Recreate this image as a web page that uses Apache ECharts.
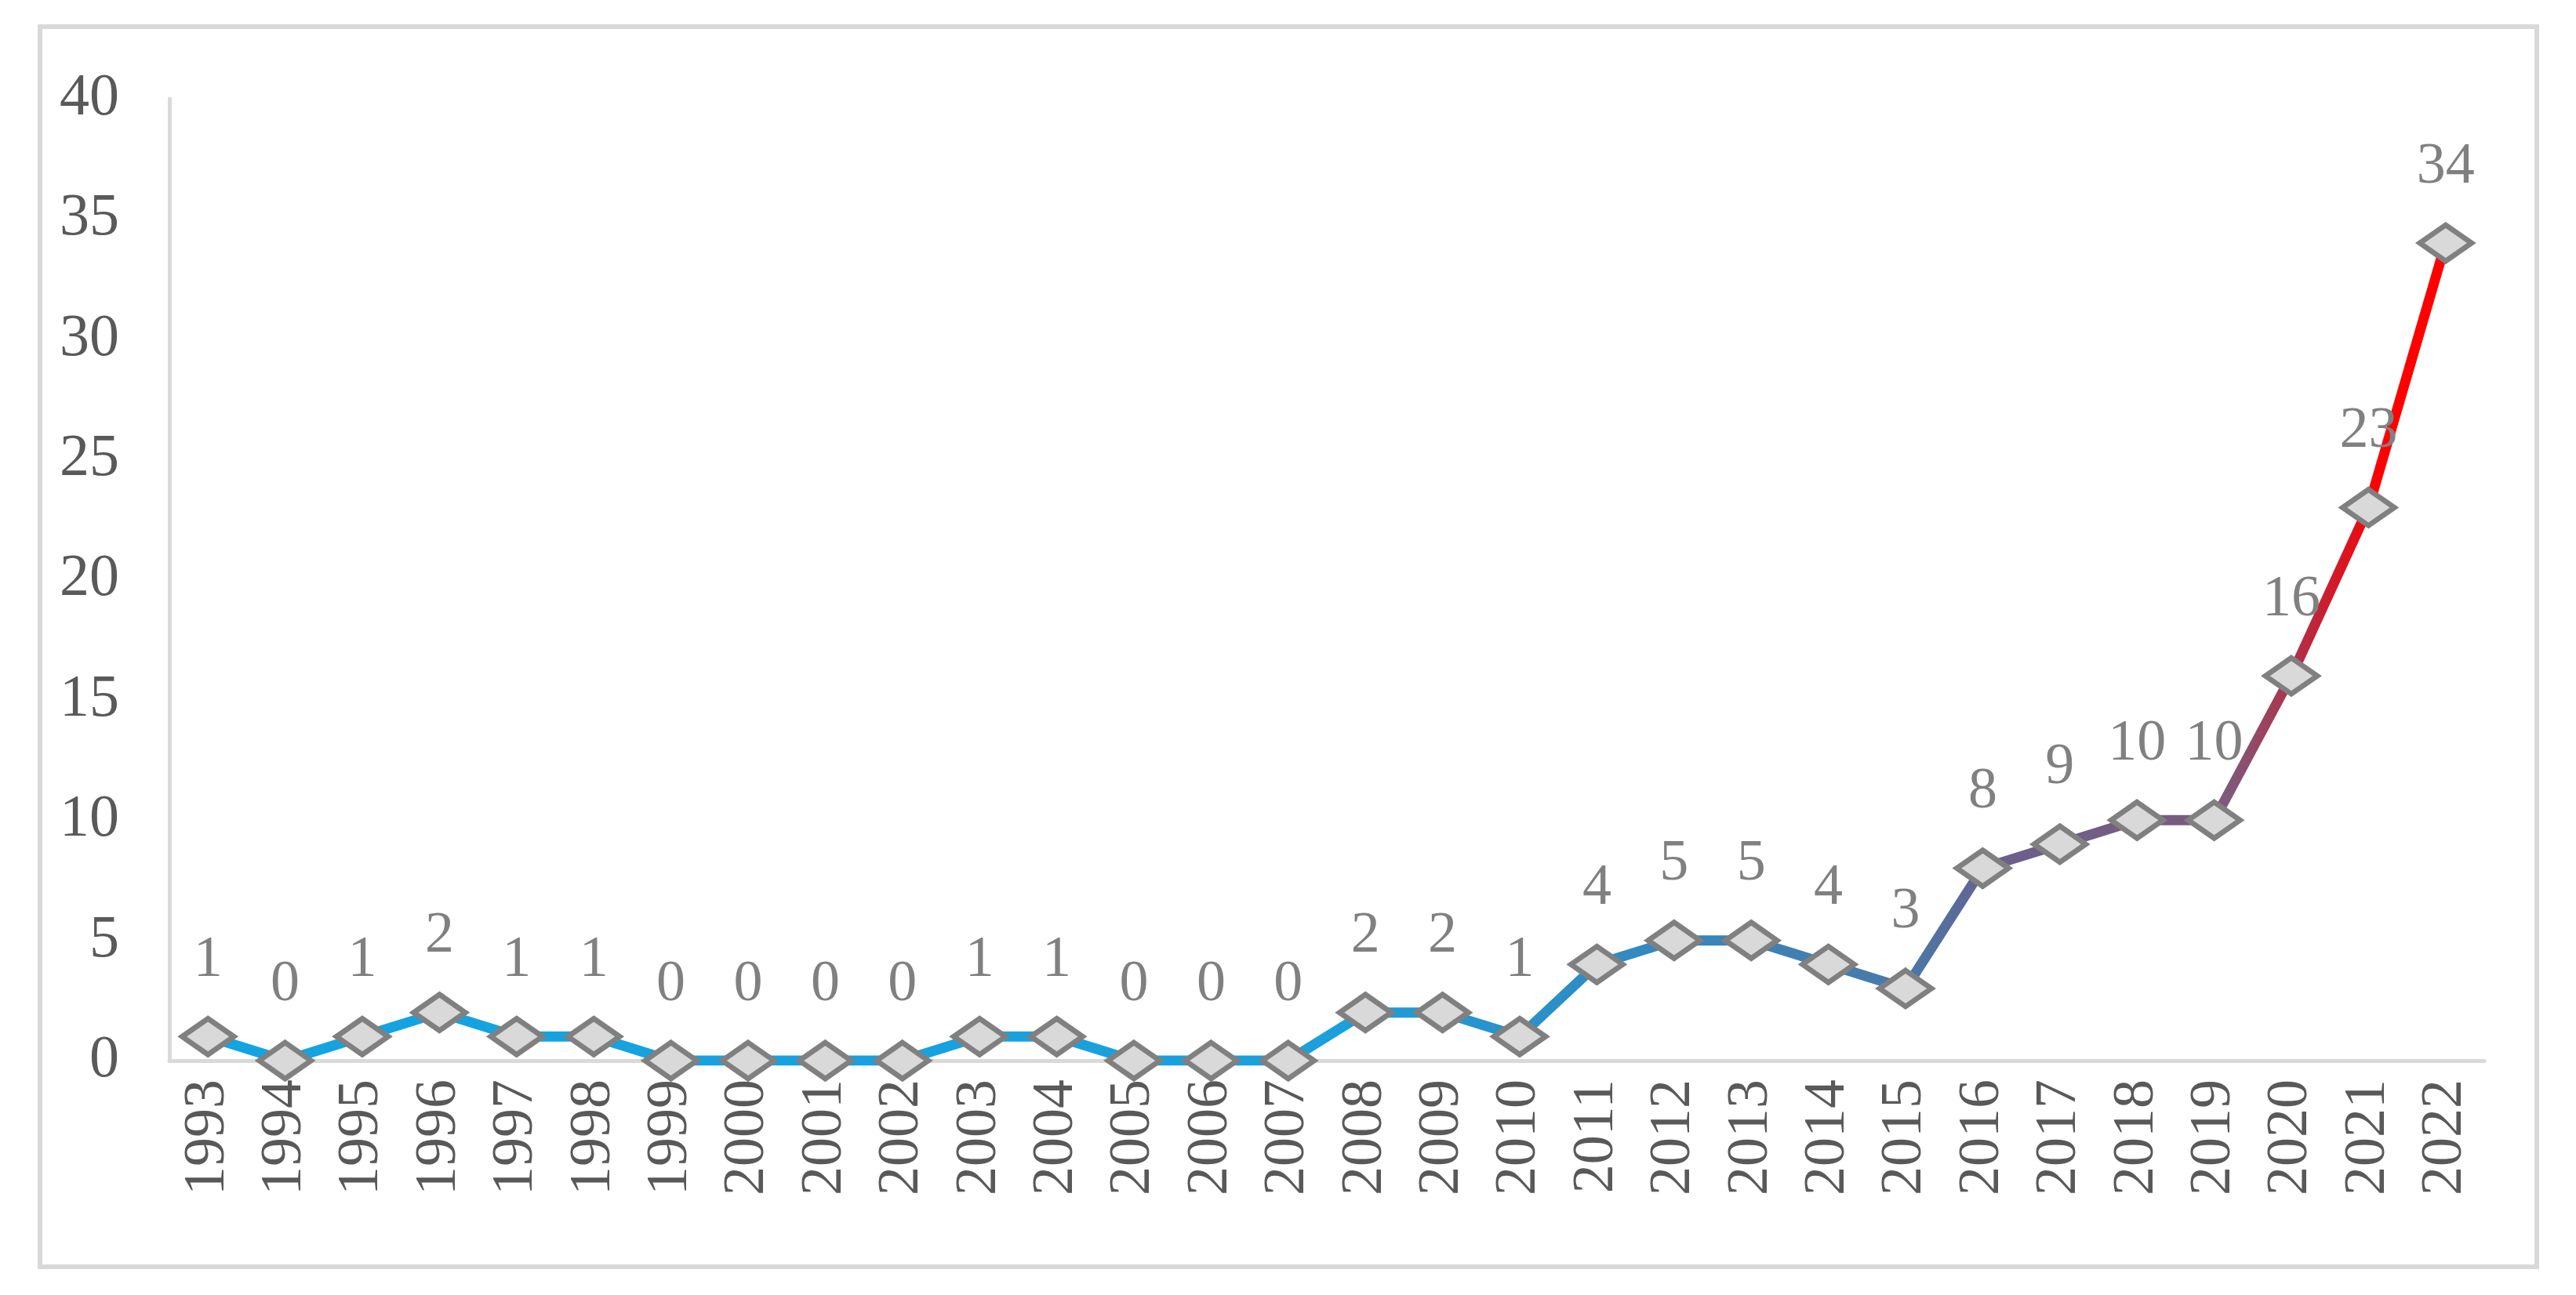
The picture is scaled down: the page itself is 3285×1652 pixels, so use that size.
<!DOCTYPE html>
<html><head><meta charset="utf-8">
<script src="https://cdn.jsdelivr.net/npm/echarts@6/dist/echarts.min.js"></script>
<style>html,body{margin:0;padding:0;background:#fff}#c{width:3285px;height:1652px}
#f{position:absolute;left:48px;top:31px;width:3190px;height:1588px;border:6px solid #d9d9d9;box-sizing:border-box;pointer-events:none}</style>
</head><body><div id="c"></div><div id="f"></div>
<script>
const years = ['1993','1994','1995','1996','1997','1998','1999','2000','2001','2002','2003','2004','2005','2006','2007','2008','2009','2010','2011','2012','2013','2014','2015','2016','2017','2018','2019','2020','2021','2022'];
const counts = [1,0,1,2,1,1,0,0,0,0,1,1,0,0,0,2,2,1,4,5,5,4,3,8,9,10,10,16,23,34];
const yTicks = [0,5,10,15,20,25,30,35,40];
const font = 'Liberation Serif';
const chart = echarts.init(document.getElementById('c'));
chart.setOption({
  animation:false,
  grid:{left:216,right:117,top:126,bottom:299},
  xAxis:{type:'category',data:years,boundaryGap:true,
    axisLine:{lineStyle:{color:'#d9d9d9',width:5}},axisTick:{show:false},
    axisLabel:{rotate:90,color:'#595959',fontFamily:font,fontSize:74,margin:24}},
  yAxis:{type:'value',min:yTicks[0],max:yTicks[yTicks.length-1],interval:5,
    axisLine:{show:true,lineStyle:{color:'#d9d9d9',width:5}},axisTick:{show:false},splitLine:{show:false},
    axisLabel:{color:'#595959',fontFamily:font,fontSize:76,margin:64}},
  series:[{type:'line',data:counts,symbol:'diamond',symbolSize:[66,46],
    lineStyle:{width:13,color:{type:'linear',x:0,y:0,x2:1,y2:0,colorStops:[
      {offset:0,color:'#12a4e2'},{offset:0.5,color:'#1ba0dc'},{offset:0.62,color:'#2f8cc4'},
      {offset:0.76,color:'#4a78a8'},{offset:0.8,color:'#6a5f8c'},{offset:0.9,color:'#7e5a7c'},
      {offset:0.94,color:'#c02438'},{offset:0.97,color:'#ff0000'},{offset:1,color:'#ff0000'}]}},
    itemStyle:{color:'#d9d9d9',borderColor:'#808080',borderWidth:7},
    label:{show:true,position:'top',distance:34,color:'#808080',fontFamily:font,fontSize:74}}]
});
</script></body></html>
